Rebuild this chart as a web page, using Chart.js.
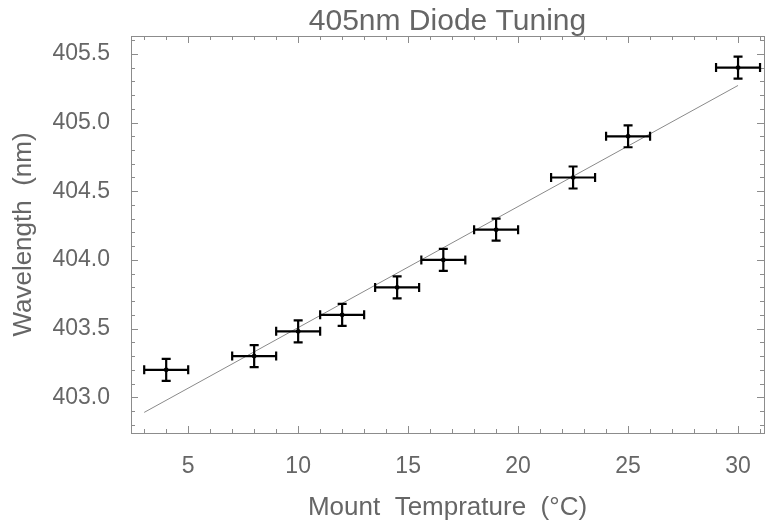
<!DOCTYPE html>
<html>
<head>
<meta charset="utf-8">
<script src="https://cdn.jsdelivr.net/npm/chart.js@4"></script>
<style>
  html, body { margin: 0; padding: 0; background: #fff; overflow: hidden; }
  #wrap { width: 765px; height: 525px; }
</style>
</head>
<body>
<div id="wrap"><canvas id="tuningChart"></canvas></div>
<script>
// Measured data: mount temperature (°C) vs diode wavelength (nm)
const temps = [4, 8, 10, 12, 14.5, 16.6, 19, 22.5, 25, 30];
const wavelengths = [403.2, 403.3, 403.48, 403.6, 403.8, 404.0, 404.22, 404.6, 404.9, 405.4];
const tempErr = [1, 1, 1, 1, 1, 1, 1, 1, 1, 1];
const waveErr = [0.08, 0.08, 0.08, 0.08, 0.08, 0.08, 0.08, 0.08, 0.08, 0.08];

// Linear fit line endpoints
const fitTemps = [3, 30];
const fitWaves = [402.89, 405.27];

// Tick labels
const xTickLabels = [5, 10, 15, 20, 25, 30];
const yTickLabels = [403.0, 403.5, 404.0, 404.5, 405.0, 405.5];

const TEXT = '#666666';
const FRAME = '#8c8c8c';
const FONT = 'Liberation Sans, Arial, sans-serif';

// Error bars drawn from the scales
const errorBars = {
    id: 'errorBars',
    afterDatasetsDraw(chart) {
        const { ctx, scales: { x, y } } = chart;
        const cap = 4.5;
        ctx.save();
        ctx.strokeStyle = '#000';
        ctx.lineWidth = 2.2;
        temps.forEach((t, i) => {
            const px = x.getPixelForValue(t);
            const py = y.getPixelForValue(wavelengths[i]);
            const x0 = x.getPixelForValue(t - tempErr[i]);
            const x1 = x.getPixelForValue(t + tempErr[i]);
            const y0 = y.getPixelForValue(wavelengths[i] - waveErr[i]);
            const y1 = y.getPixelForValue(wavelengths[i] + waveErr[i]);
            ctx.beginPath();
            ctx.moveTo(x0, py); ctx.lineTo(x1, py);
            ctx.moveTo(x0, py - cap); ctx.lineTo(x0, py + cap);
            ctx.moveTo(x1, py - cap); ctx.lineTo(x1, py + cap);
            ctx.moveTo(px, y0); ctx.lineTo(px, y1);
            ctx.moveTo(px - cap, y0); ctx.lineTo(px + cap, y0);
            ctx.moveTo(px - cap, y1); ctx.lineTo(px + cap, y1);
            ctx.stroke();
        });
        ctx.restore();
    }
};

// Frame with inward ticks on all four sides
const frameTicks = {
    id: 'frameTicks',
    beforeDatasetsDraw(chart) {
        const { ctx, chartArea: a, scales: { x, y } } = chart;
        ctx.save();
        ctx.strokeStyle = FRAME;
        ctx.lineWidth = 1;
        ctx.strokeRect(a.left + 0.5, a.top + 0.5, a.right - a.left, a.bottom - a.top);
        ctx.beginPath();
        for (let v = Math.ceil(x.min); v <= x.max; v++) {
            const len = v % 5 === 0 ? 7 : 4;
            const px = Math.round(x.getPixelForValue(v)) + 0.5;
            ctx.moveTo(px, a.bottom); ctx.lineTo(px, a.bottom - len);
            ctx.moveTo(px, a.top); ctx.lineTo(px, a.top + len);
        }
        for (let k = Math.ceil(y.min * 10); k <= y.max * 10; k++) {
            const len = k % 5 === 0 ? 7 : 4;
            const py = Math.round(y.getPixelForValue(k / 10)) + 0.5;
            ctx.moveTo(a.left, py); ctx.lineTo(a.left + len, py);
            ctx.moveTo(a.right, py); ctx.lineTo(a.right - len, py);
        }
        ctx.stroke();
        ctx.restore();
    }
};

// Plot label centred over the frame
const plotLabel = {
    id: 'plotLabel',
    afterDraw(chart) {
        const { ctx, chartArea: a } = chart;
        ctx.save();
        ctx.fillStyle = TEXT;
        ctx.font = '30px ' + FONT;
        ctx.textAlign = 'center';
        ctx.textBaseline = 'alphabetic';
        ctx.fillText('405nm Diode Tuning', (a.left + a.right) / 2, 30);
        ctx.restore();
    }
};

new Chart(document.getElementById('tuningChart'), {
    type: 'scatter',
    data: {
        datasets: [
            {
                label: 'Fit',
                type: 'line',
                data: fitTemps.map((t, i) => ({ x: t, y: fitWaves[i] })),
                borderColor: '#8a8a8a',
                borderWidth: 1,
                pointRadius: 0,
                fill: false
            },
            {
                label: 'Measured',
                data: temps.map((t, i) => ({ x: t, y: wavelengths[i] })),
                backgroundColor: '#000',
                borderColor: '#000',
                pointRadius: 2
            }
        ]
    },
    plugins: [frameTicks, errorBars, plotLabel],
    options: {
        responsive: true,
        maintainAspectRatio: false,
        animation: false,
        layout: {
            autoPadding: false,
            padding: { left: 0, right: 1, top: 36, bottom: 0 }
        },
        plugins: {
            legend: { display: false },
            tooltip: { enabled: false }
        },
        scales: {
            x: {
                type: 'linear',
                min: 2.4,
                max: 31.18,
                grid: { display: false },
                border: { display: false },
                afterBuildTicks(scale) {
                    scale.ticks = xTickLabels.map(v => ({ value: v }));
                },
                afterFit(scale) {
                    scale.height = 92;
                    scale.paddingLeft = 0;
                    scale.paddingRight = 0;
                },
                ticks: {
                    color: TEXT,
                    padding: 12,
                    maxRotation: 0,
                    font: { family: FONT, size: 23 }
                },
                title: {
                    display: true,
                    text: 'Mount  Temprature  (°C)',
                    color: TEXT,
                    font: { family: FONT, size: 26 },
                    padding: { bottom: 2, top: 0 }
                }
            },
            y: {
                type: 'linear',
                min: 402.74,
                max: 405.63,
                grid: { display: false },
                border: { display: false },
                afterBuildTicks(scale) {
                    scale.ticks = yTickLabels.map(v => ({ value: v }));
                },
                afterFit(scale) {
                    scale.width = 131;
                    scale.paddingTop = 0;
                    scale.paddingBottom = 0;
                },
                ticks: {
                    color: TEXT,
                    padding: 13,
                    font: { family: FONT, size: 23 },
                    callback: v => v.toFixed(1)
                },
                title: {
                    display: true,
                    text: 'Wavelength  (nm)',
                    color: TEXT,
                    font: { family: FONT, size: 26 },
                    padding: { top: 8, bottom: 0 }
                }
            }
        }
    }
});
</script>
</body>
</html>
